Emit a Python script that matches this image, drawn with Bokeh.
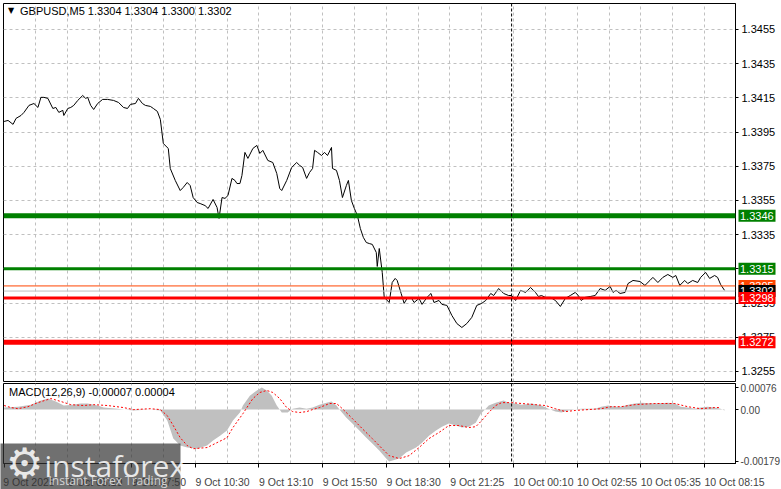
from bokeh.plotting import figure
from bokeh.layouts import column
from bokeh.models import (FixedTicker, Span, Label, Range1d, PrintfTickFormatter,
                          CustomJSTickFormatter)
from bokeh.core.properties import value
from bokeh.embed import file_html
from bokeh.resources import INLINE

# ---------------- data ----------------
price_bars = [0, 2, 4.5, 6, 8.5, 10, 12.5, 15, 17, 18.5, 20, 22, 24.5, 26, 27.5, 29.5, 30, 32, 33.5, 35,
              37, 39.5, 41, 42, 43.5, 45, 47, 49.5, 52, 55, 57.5, 60, 62, 63.5, 66, 67.5, 69.5, 71, 73.5, 75,
              77, 78.5, 80, 82.5, 83.5, 86, 88.5, 90, 92, 93.5, 95, 97, 98.5, 101, 102.5, 105, 107, 108, 109.5, 111,
              112.5, 114.5, 116, 117, 118.5, 119.5, 121, 122.5, 125, 127, 128.5, 130, 132.5, 135, 137, 138.5, 139.5, 142, 144.5, 147,
              148.5, 150, 152, 153.5, 155, 156, 157.5, 159.5, 161, 162.5, 164.5, 165, 167, 168.5, 170, 172, 173, 174.5, 176, 177.5,
              179, 180.5, 182, 183.5, 185, 187, 187.5, 188.5, 190, 191, 193.5, 195, 196.5, 197.5, 199.5, 201, 202.5, 204.5,
              206, 208.5, 210, 212.5, 214.5, 216, 218.5, 220, 222.5, 225, 227.5, 230, 232.5, 235, 237.5, 240, 242, 244.5,
              246, 248.5, 251, 253.5, 255, 257, 259.5, 262, 264.5, 267, 268.5, 270, 272, 274.5, 277, 279.5, 282, 284.5,
              287, 288.5, 290, 292, 294.5, 297, 299.5, 302, 304.5, 306, 307.5, 309.5, 312, 313.5, 316, 319.5, 322, 324.5,
              326, 328.5, 331, 333.5, 336, 337.5, 339.5, 342, 343.5, 346, 348.5, 350, 352.5, 354.5, 357, 358.5, 360, 362]
close = [1.34012, 1.34018, 1.33995, 1.34030, 1.34047, 1.34065, 1.34106, 1.34117, 1.34094, 1.34153, 1.34153, 1.34147,
         1.34088, 1.34094, 1.34065, 1.34077, 1.34047, 1.34088, 1.34094, 1.34106, 1.34135, 1.34164, 1.34147, 1.34153,
         1.34106, 1.34082, 1.34117, 1.34141, 1.34141, 1.34135, 1.34123, 1.34094, 1.34088, 1.34112, 1.34117, 1.34147,
         1.34117, 1.34106, 1.34100, 1.34088, 1.34071, 1.34024, 1.33883, 1.33854, 1.33737, 1.33667, 1.33608, 1.33626,
         1.33655, 1.33637, 1.33567, 1.33538, 1.33532, 1.33520, 1.33503, 1.33556, 1.33509, 1.33445, 1.33567, 1.33562,
         1.33579, 1.33679, 1.33667, 1.33649, 1.33649, 1.33696, 1.33831, 1.33796, 1.33854, 1.33872, 1.33825, 1.33843,
         1.33784, 1.33772, 1.33708, 1.33620, 1.33608, 1.33667, 1.33743, 1.33772, 1.33755, 1.33743, 1.33679, 1.33714,
         1.33737, 1.33843, 1.33831, 1.33813, 1.33831, 1.33813, 1.33860, 1.33737, 1.33726, 1.33667, 1.33567, 1.33638,
         1.33667, 1.33550, 1.33503, 1.33462, 1.33386, 1.33334, 1.33304, 1.33298, 1.33293, 1.33246, 1.33164, 1.33269,
         1.33129, 1.32983, 1.32953, 1.33070, 1.33094, 1.33082, 1.33006, 1.32948, 1.32977, 1.32983, 1.32953, 1.32977,
         1.32942, 1.32983, 1.33006, 1.32953, 1.32965, 1.32942, 1.32936, 1.32877, 1.32830, 1.32807, 1.32830, 1.32866,
         1.32936, 1.32948, 1.32965, 1.33006, 1.32994, 1.33035, 1.33006, 1.32994, 1.32994, 1.32965, 1.33024, 1.33012,
         1.33041, 1.33012, 1.32988, 1.32994, 1.32983, 1.32983, 1.32965, 1.32930, 1.32977, 1.32994, 1.33012, 1.32994,
         1.32965, 1.32983, 1.32988, 1.32994, 1.33035, 1.33024, 1.33047, 1.33012, 1.33024, 1.33006, 1.33012, 1.33064,
         1.33082, 1.33076, 1.33053, 1.33082, 1.33100, 1.33070, 1.33100, 1.33117, 1.33100, 1.33111, 1.33053, 1.33082,
         1.33064, 1.33082, 1.33070, 1.33100, 1.33129, 1.33094, 1.33111, 1.33100, 1.33059, 1.33024]

hist_bars = [0, 7, 13.5, 18.5, 22, 26, 30, 34.5, 38.5, 42, 47, 50, 57, 65, 73.5, 78.5, 82, 85, 88.5, 92, 97, 102,
             105, 108.5, 112, 115, 118.5, 120, 123.5, 127, 129.5, 132, 134.5, 137, 139.5, 142.5, 145, 148.5, 152,
             155, 158.5, 162, 164.5, 167, 168.5, 172, 175, 178.5, 182, 185, 188.5, 192, 193.5, 198.5, 202, 207,
             210, 213.5, 217, 220, 223.5, 227, 230, 233.5, 237, 239.5, 242, 243.5, 247, 251, 253.5, 257, 260,
             265, 270, 273.5, 277, 280, 283.5, 287, 290, 297, 300, 303.5, 307, 310, 313.5, 317, 320, 327, 333.5,
             337, 340, 343.5, 347, 350, 353.5, 357, 360, 362]
hist_vals = [0.00007, 0.00010, 0.00017, 0.00031, 0.00038, 0.00028, 0.00014, 0.00017, 0.00021, 0.00021, 0.00014,
             0.00007, 0.00003, -0.00003, 0.0, -0.00003, -0.00038, -0.00100, -0.00124, -0.00131, -0.00135,
             -0.00124, -0.00107, -0.00090, -0.00072, -0.00038, -0.00010, 0.00014, 0.00048, 0.00066, 0.00076,
             0.00066, 0.00048, 0.00014, -0.00010, -0.00010, 0.00003, 0.00007, 0.00003, 0.00007, 0.00017, 0.00024,
             0.00028, 0.00014, 0.0, -0.00028, -0.00048, -0.00072, -0.00097, -0.00117, -0.00141, -0.00169,
             -0.00179, -0.00169, -0.00148, -0.00131, -0.00114, -0.00090, -0.00072, -0.00059, -0.00048, -0.00055,
             -0.00062, -0.00059, -0.00045, -0.00014, 0.00003, 0.00014, 0.00024, 0.00031, 0.00024, 0.00021,
             0.00017, 0.00021, 0.00014, 0.00003, -0.00007, -0.00010, -0.00003, 0.0, 0.00003, 0.00003, 0.00010,
             0.00014, 0.00010, 0.00010, 0.00017, 0.00021, 0.00024, 0.00021, 0.00024, 0.00021, 0.00010, 0.00007,
             0.00003, 0.00007, 0.00010, 0.00007, 0.00003, -0.00003]

sig_bars = [0, 3.5, 7, 12, 17, 23.5, 28.5, 33.5, 40, 45, 52, 60, 65, 73.5, 78.5, 82, 85, 88.5, 92, 95, 102, 107,
            112, 115, 120, 125, 128.5, 132, 135, 138.5, 142, 145, 148.5, 152, 155, 158.5, 163.5, 167, 170, 175,
            180, 185, 190, 193.5, 198.5, 203.5, 208.5, 213.5, 218.5, 223.5, 228.5, 233.5, 237, 240, 243.5, 247,
            250, 255, 260, 267, 272, 277, 282, 287, 293.5, 300, 305, 310, 317, 327, 337, 343.5, 350, 357, 360]
sig_vals = [0.00014, 0.00007, 0.00003, 0.00010, 0.00024, 0.00038, 0.00028, 0.00017, 0.00014, 0.00017, 0.00014,
            0.00007, 0.0, 0.00003, 0.0, -0.00021, -0.00055, -0.00097, -0.00124, -0.00135, -0.00131, -0.00114,
            -0.00097, -0.00062, -0.00014, 0.00038, 0.00059, 0.00066, 0.00059, 0.00038, 0.00007, -0.00007,
            -0.00010, -0.00007, 0.0, 0.00007, 0.00021, 0.00021, 0.00003, -0.00031, -0.00066, -0.00100, -0.00135,
            -0.00159, -0.00169, -0.00159, -0.00131, -0.00100, -0.00079, -0.00055, -0.00055, -0.00062, -0.00059,
            -0.00038, -0.00010, 0.00014, 0.00024, 0.00024, 0.00021, 0.00017, 0.00014, 0.00003, -0.00007,
            -0.00003, 0.0, 0.00003, 0.00010, 0.00010, 0.00017, 0.00021, 0.00021, 0.00010, 0.00003, 0.00007, 0.00007]

price_ticks = [1.3255, 1.3275, 1.3295, 1.3315, 1.3335, 1.3355, 1.3375, 1.3395, 1.3415, 1.3435, 1.3455]
macd_ticks = [-0.00179, 0.0, 0.00076]
time_tick_bars = [0, 32, 64, 96, 128, 160, 192, 224, 256, 288, 320, 352]
time_labels = ["9 Oct 2025", "9 Oct 05:10", "9 Oct 07:50", "9 Oct 10:30", "9 Oct 13:10", "9 Oct 15:50",
               "9 Oct 18:30", "9 Oct 21:25", "10 Oct 00:10", "10 Oct 02:55", "10 Oct 05:35", "10 Oct 08:15"]
grid_bars = list(range(16, 368, 16))
separator_bar = 255

level_values = [1.3346, 1.3315, 1.3305, 1.3302, 1.3298, 1.3272]
level_line_colors = ["#008000", "#008000", "#ff4500", "#c0c0c0", "#ff0000", "#ff0000"]
level_label_colors = ["#008000", "#008000", "#ff4500", "#000000", "#ff0000", "#ff0000"]
level_widths = [5, 3, 1, 1, 3, 5]

title_text = "GBPUSD,M5  1.3304 1.3304 1.3300 1.3302"
macd_text = "MACD(12,26,9) -0.00007 0.00004"

FONT = "Liberation Sans"
GRID = "#c0c0c0"

X0, X1 = -0.3, 367.5
FW = 732
bar_px = (X1 - X0) / FW          # bars per screen pixel
x_range = Range1d(X0, X1)

# ---------------- main price panel ----------------
P_LO, P_HI = 1.32491, 1.34702
p = figure(frame_width=FW, frame_height=378, min_border_left=3, min_border_right=46,
           min_border_top=3, min_border_bottom=1, x_range=x_range,
           y_range=Range1d(P_LO, P_HI), output_backend="svg", toolbar_location=None,
           x_axis_location=None, y_axis_location="right", background_fill_color="white",
           border_fill_color="white", outline_line_color="black")
p.yaxis.ticker = FixedTicker(ticks=price_ticks)
p.yaxis.formatter = PrintfTickFormatter(format="%.4f")
p.yaxis.major_label_text_font = FONT
p.yaxis.major_label_text_font_size = "11px"
p.yaxis.major_label_text_color = "black"
p.yaxis.major_tick_out = 3
p.yaxis.major_tick_in = 0
p.yaxis.minor_tick_line_color = None
p.yaxis.major_label_standoff = 3
p.yaxis.axis_line_color = "black"
p.xgrid.ticker = FixedTicker(ticks=grid_bars)
p.ygrid.ticker = FixedTicker(ticks=price_ticks)
for g in (p.xgrid, p.ygrid):
    g.grid_line_color = GRID
    g.grid_line_dash = "3 3"
    g.grid_line_width = 1

p.line(price_bars, close, line_color="black", line_width=1)

for v, lc, w in zip(level_values, level_line_colors, level_widths):
    p.add_layout(Span(location=v, dimension="width", line_color=lc, line_width=w))

p.add_layout(Span(location=separator_bar, dimension="height", line_color="black",
                  line_dash="3 2", line_width=1))

# price tags in the right-hand scale area
tag_left = X1 + 3 * bar_px
tag_center = tag_left + 18.5 * bar_px
for v, bc in zip(level_values, level_label_colors):
    p.rect(x=[tag_center], y=[v], width=37, height=12, width_units="screen", height_units="screen",
           fill_color=bc, line_color=None, level="overlay")
    p.text(x=[tag_left + 1.5 * bar_px], y=[v], text=[f"{v:.4f}"], text_font=value(FONT),
           text_font_size="11px", text_color="white", text_baseline="middle", text_align="left",
           level="overlay")

p.add_layout(Label(x=2.0, y=1.34661, text="▼", text_font="DejaVu Sans", text_font_size="8px",
                   text_color="black", text_baseline="middle"))
p.add_layout(Label(x=8.0, y=1.34661, text=title_text, text_font=FONT, text_font_size="11px",
                   text_color="black", text_baseline="middle"))

# ---------------- MACD panel ----------------
M_LO, M_HI = -0.00186, 0.00090
MFH = 80
p2 = figure(frame_width=FW, frame_height=MFH, min_border_left=3, min_border_right=46,
            min_border_top=1, min_border_bottom=26, x_range=x_range,
            y_range=Range1d(M_LO, M_HI), output_backend="svg", toolbar_location=None,
            x_axis_location="below", y_axis_location="right", background_fill_color="white",
            border_fill_color="white", outline_line_color="black")
p2.yaxis.ticker = FixedTicker(ticks=macd_ticks)
p2.yaxis.formatter = CustomJSTickFormatter(
    code="return Math.abs(tick) < 1e-12 ? '0.00' : tick.toFixed(5);")
p2.yaxis.major_label_text_font = FONT
p2.yaxis.major_label_text_font_size = "10px"
p2.yaxis.major_tick_out = 3
p2.yaxis.major_tick_in = 0
p2.yaxis.minor_tick_line_color = None
p2.yaxis.major_label_standoff = 2
p2.yaxis.axis_line_color = "black"

centers = [b + len(t) * 1.25 for b, t in zip(time_tick_bars, time_labels)]
p2.xaxis.ticker = FixedTicker(ticks=centers, minor_ticks=time_tick_bars)
p2.xaxis.formatter = CustomJSTickFormatter(args=dict(c=centers, l=time_labels), code="""
let best = 0; let d = 1e9;
for (let i = 0; i < c.length; i++) { const dd = Math.abs(c[i] - tick); if (dd < d) { d = dd; best = i; } }
return l[best];
""")
p2.xaxis.major_tick_line_color = None
p2.xaxis.minor_tick_out = 4
p2.xaxis.minor_tick_in = 0
p2.xaxis.minor_tick_line_color = "black"
p2.xaxis.major_label_text_font = FONT
p2.xaxis.major_label_text_font_size = "10.5px"
p2.xaxis.major_label_standoff = 6
p2.xaxis.axis_line_color = "black"
p2.xgrid.ticker = FixedTicker(ticks=grid_bars)
p2.xgrid.grid_line_color = GRID
p2.xgrid.grid_line_dash = "3 3"
p2.ygrid.grid_line_color = None

p2.varea(x=hist_bars, y1=0, y2=hist_vals, fill_color="#c0c0c0")
p2.line(sig_bars, sig_vals, line_color="#ff0000", line_dash="2 2", line_width=1)
p2.add_layout(Span(location=separator_bar, dimension="height", line_color="black",
                   line_dash="3 2", line_width=1))

p2.add_layout(Label(x=2.5, y=0.00062, text=macd_text, text_font=FONT, text_font_size="11px",
                    text_color="black", text_baseline="middle"))

# watermark (spans the lower MACD frame and the time scale)
m_px = (M_HI - M_LO) / MFH       # MACD units per screen pixel
def my(px_from_bottom):
    return M_LO + px_from_bottom * m_px

wm_left = X0 - 3 * bar_px
p2.rect(x=[wm_left + 90 * bar_px], y=[my(-3)], width=180, height=46,
        width_units="screen", height_units="screen", fill_color="#333333", fill_alpha=0.7,
        line_color=None, level="overlay")
p2.text(x=[wm_left + 24 * bar_px], y=[my(0)], text=["⚙"], text_font=value("DejaVu Sans"),
        text_font_size="42px", text_color="white", text_alpha=0.85, text_baseline="middle",
        text_align="center", level="overlay")
p2.text(x=[wm_left + 44 * bar_px], y=[my(-2)], text=["instaforex"], text_font=value("Open Sans"),
        text_font_size="30px", text_color="white", text_alpha=0.85, text_baseline="alphabetic",
        level="overlay")
p2.text(x=[wm_left + 48 * bar_px], y=[my(-17)], text=["Instant Forex Trading"],
        text_font=value("Open Sans"), text_font_size="12px", text_color="#e8e8e8",
        text_alpha=0.85, text_baseline="middle", level="overlay")

layout = column(p, p2, spacing=0)
open("out.html", "w").write(file_html(layout, INLINE))
